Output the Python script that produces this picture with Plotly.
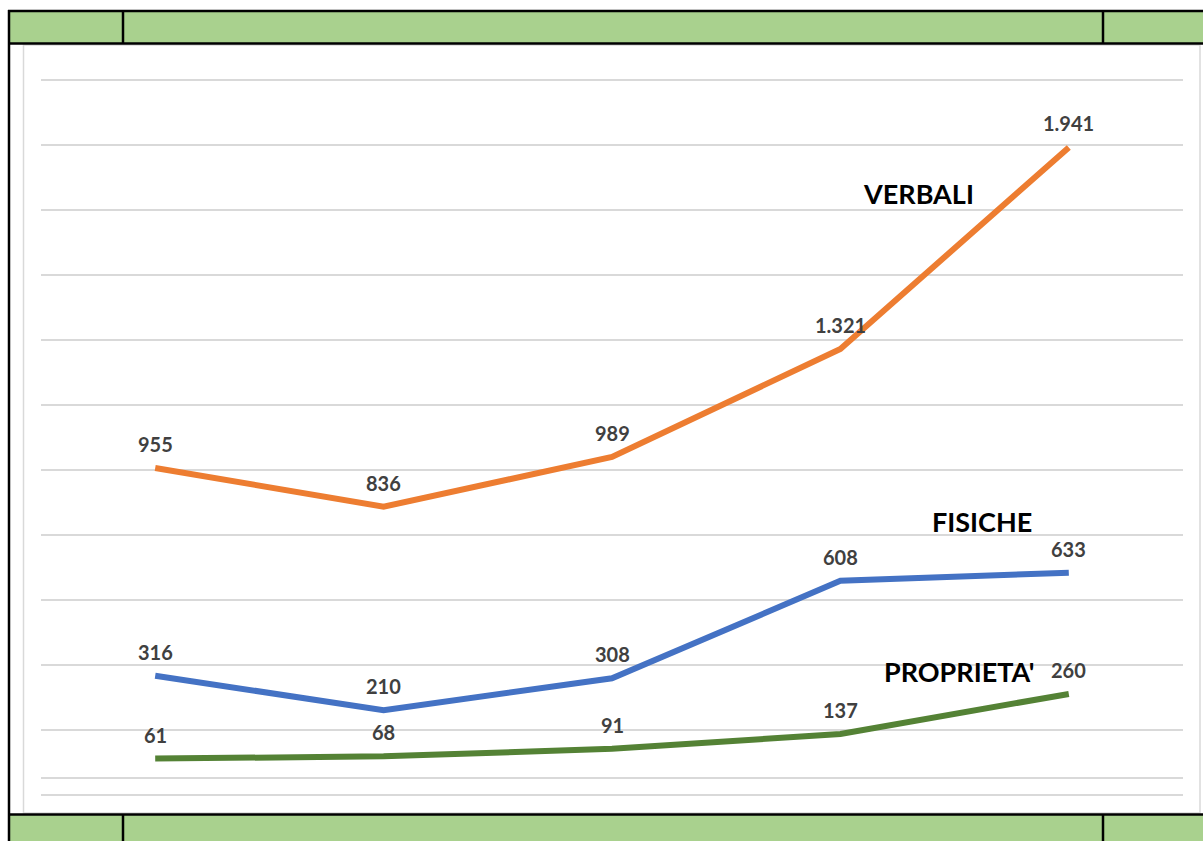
import plotly.graph_objects as go

# Dati (5 periodi, etichette asse non visibili)
periodi = ["P1", "P2", "P3", "P4", "P5"]
verbali = [955, 836, 989, 1321, 1941]
fisiche = [316, 210, 308, 608, 633]
proprieta = [61, 68, 91, 137, 260]

W, H = 1203, 841

COLORS = {
    "verbali": "#ED7D31",
    "fisiche": "#4472C4",
    "proprieta": "#548235",
    "green_row": "#A9D18E",
    "grid": "#D9D9D9",
    "label": "#404040",
}


def px_x(x):
    return x / W


def px_y(y):
    return 1 - y / H


def fmt(v):
    # separatore delle migliaia all'italiana
    return f"{v:,}".replace(",", ".")


fig = go.Figure()

series = [
    ("VERBALI", verbali, COLORS["verbali"]),
    ("FISICHE", fisiche, COLORS["fisiche"]),
    ("PROPRIETA'", proprieta, COLORS["proprieta"]),
]

for name, values, color in series:
    fig.add_trace(go.Scatter(
        x=periodi,
        y=values,
        name=name,
        mode="lines",
        line=dict(color=color, width=6),
        hoverinfo="skip",
    ))
    for p, v in zip(periodi, values):
        fig.add_annotation(
            x=p, y=v, text=fmt(v), showarrow=False,
            yshift=24, xanchor="center", yanchor="middle",
            font=dict(family="Lato", size=20, color=COLORS["label"], weight="bold"),
        )

# etichette delle serie
series_labels = [
    ("VERBALI", 3.34, 1800),
    ("FISICHE", 3.62, 789),
    ("PROPRIETA'", 3.52, 328),
]
for text, x, y in series_labels:
    fig.add_annotation(
        x=x, y=y, text=text, showarrow=False,
        xanchor="center", yanchor="middle",
        font=dict(family="Lato", size=27, color="black", weight="bold"),
    )

shapes = []

# bordo grigio dell'area grafico
shapes.append(dict(
    type="rect", xref="paper", yref="paper",
    x0=px_x(23.5), x1=px_x(1200), y0=px_y(813), y1=px_y(45),
    line=dict(color="#D9D9D9", width=1.5), fillcolor="rgba(0,0,0,0)",
))

# righe verdi della tabella (sopra e sotto)
for y0, y1 in [(11, 43.5), (814.5, 845)]:
    shapes.append(dict(
        type="rect", xref="paper", yref="paper",
        x0=px_x(9), x1=px_x(1210), y0=px_y(y1), y1=px_y(y0),
        line=dict(width=0), fillcolor=COLORS["green_row"],
    ))
    for xv in [123, 1103]:
        shapes.append(dict(
            type="line", xref="paper", yref="paper",
            x0=px_x(xv), x1=px_x(xv), y0=px_y(y1), y1=px_y(y0),
            line=dict(color="black", width=2.5),
        ))

# bordi neri
for yv in [11, 43.5, 814.5]:
    shapes.append(dict(
        type="line", xref="paper", yref="paper",
        x0=px_x(8), x1=px_x(1210), y0=px_y(yv), y1=px_y(yv),
        line=dict(color="black", width=2.5),
    ))
shapes.append(dict(
    type="line", xref="paper", yref="paper",
    x0=px_x(9), x1=px_x(9), y0=px_y(845), y1=px_y(10),
    line=dict(color="black", width=2.5),
))

# area dati: -50 -> y 794.7px, 2150 -> y 79.5px (allargata di 2px per mostrare le griglie ai bordi)
unit = 2200 / (794.7 - 79.5)
pad = 2
fig.update_layout(
    width=W,
    height=H,
    margin=dict(l=0, r=0, t=0, b=0),
    plot_bgcolor="white",
    paper_bgcolor="white",
    showlegend=False,
    shapes=shapes,
    xaxis=dict(
        domain=[px_x(41), px_x(1183)],
        range=[-0.5, 4.5],
        showticklabels=False,
        showgrid=False,
        zeroline=False,
        ticks="",
    ),
    yaxis=dict(
        domain=[px_y(794.7 + pad), px_y(79.5 - pad)],
        range=[-50 - pad * unit, 2150 + pad * unit],
        tick0=-50,
        dtick=200,
        showticklabels=False,
        showgrid=True,
        gridcolor=COLORS["grid"],
        gridwidth=1.5,
        zeroline=True,
        zerolinecolor=COLORS["grid"],
        zerolinewidth=1.5,
        ticks="",
    ),
)

# niente margine sul body, così la figura riempie esattamente la finestra
fig.write_html(
    "out.html",
    config={"displayModeBar": False},
    post_script="document.body.style.margin='0';",
)
